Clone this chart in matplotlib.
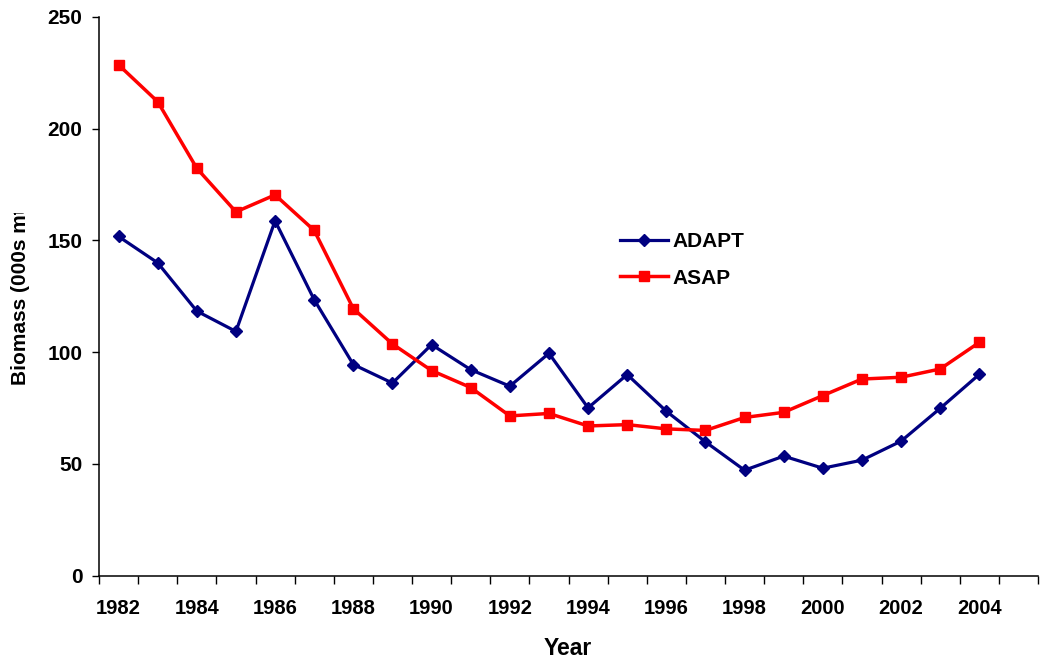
import numpy as np
import matplotlib
matplotlib.use("Agg")
import matplotlib.pyplot as plt
from matplotlib.patches import Rectangle

plt.rcParams['font.family'] = ['Liberation Sans', 'DejaVu Sans']

# categories on the x axis (2005 is an empty slot, as in the original)
years = list(range(1982, 2006))
tick_years = list(range(1982, 2005, 2))

# biomass estimates, 000s mt
adapt = [151.8, 140.0, 118.4, 109.3, 158.8, 123.5, 94.5, 86.2, 103.4, 92.2,
         84.8, 99.5, 75.1, 90.0, 73.6, 59.9, 47.2, 53.5, 48.1, 51.7,
         60.2, 74.9, 90.1]
asap = [228.6, 212.1, 182.3, 162.8, 170.4, 154.5, 119.5, 103.7, 91.8, 84.2,
        71.5, 72.6, 67.0, 67.6, 65.7, 65.0, 70.8, 73.1, 80.6, 88.0,
        88.8, 92.5, 104.4]

y_ticks = [0, 50, 100, 150, 200, 250]

W, H = 1040, 664
fig = plt.figure(figsize=(W / 100, H / 100), dpi=100)
ax = fig.add_axes([99 / W, 1 - 575.7 / H, (1038 - 99) / W, (575.7 - 17) / H])

# category positions
x_adapt = [years.index(y) for y in years[:len(adapt)]]
x_asap = [years.index(y) for y in years[:len(asap)]]

ax.plot(x_adapt, adapt, color="#000080", lw=2.3, marker="D", ms=6.5,
        label="ADAPT", zorder=3)
ax.plot(x_asap, asap, color="#FF0000", lw=2.5, marker="s", ms=7.5,
        label="ASAP", zorder=4)

ax.set_xlim(-0.5, len(years) - 0.5)
ax.set_ylim(0, 250)

# ticks between categories, labels on every second category
ax.set_xticks(np.arange(-0.5, len(years), 1.0))
ax.set_xticklabels([])
ax.set_xticks([years.index(y) for y in tick_years], minor=True)
ax.set_xticklabels([str(y) for y in tick_years], minor=True,
                   fontsize=14.5, fontweight="bold")
ax.tick_params(axis="x", which="major", direction="out", length=6, width=1)
ax.tick_params(axis="x", which="minor", length=0, pad=17)

ax.set_yticks(y_ticks)
ax.set_yticklabels([str(v) for v in y_ticks], fontsize=15, fontweight="bold")
ax.tick_params(axis="y", direction="out", length=5, width=1, pad=7)

for side in ["top", "right"]:
    ax.spines[side].set_visible(False)
for side in ["left", "bottom"]:
    ax.spines[side].set_linewidth(1.1)

fig.text(568 / W, 1 - 655 / H, "Year", ha="center", va="baseline",
         fontsize=16.5, fontweight="bold")

# y label runs off the top of its box in the original, so it is cut off
fig.text(21 / W, 1 - 385 / H, "Biomass (000s mt)", rotation=90,
         ha="center", va="bottom", fontsize=15, fontweight="bold", zorder=3)
fig.add_artist(Rectangle((0, 1 - 213 / H), 40 / W, 213 / H,
                         transform=fig.transFigure, facecolor="white",
                         edgecolor="none", zorder=10))

ax.legend(loc="center left", bbox_to_anchor=(620 / W, 1 - 259.7 / H),
          bbox_transform=fig.transFigure, frameon=False, borderpad=0,
          borderaxespad=0, handlelength=2.3, handletextpad=0.2,
          labelspacing=0.85, prop={"size": 15, "weight": "bold"})

fig.savefig("out.png", dpi=100)
